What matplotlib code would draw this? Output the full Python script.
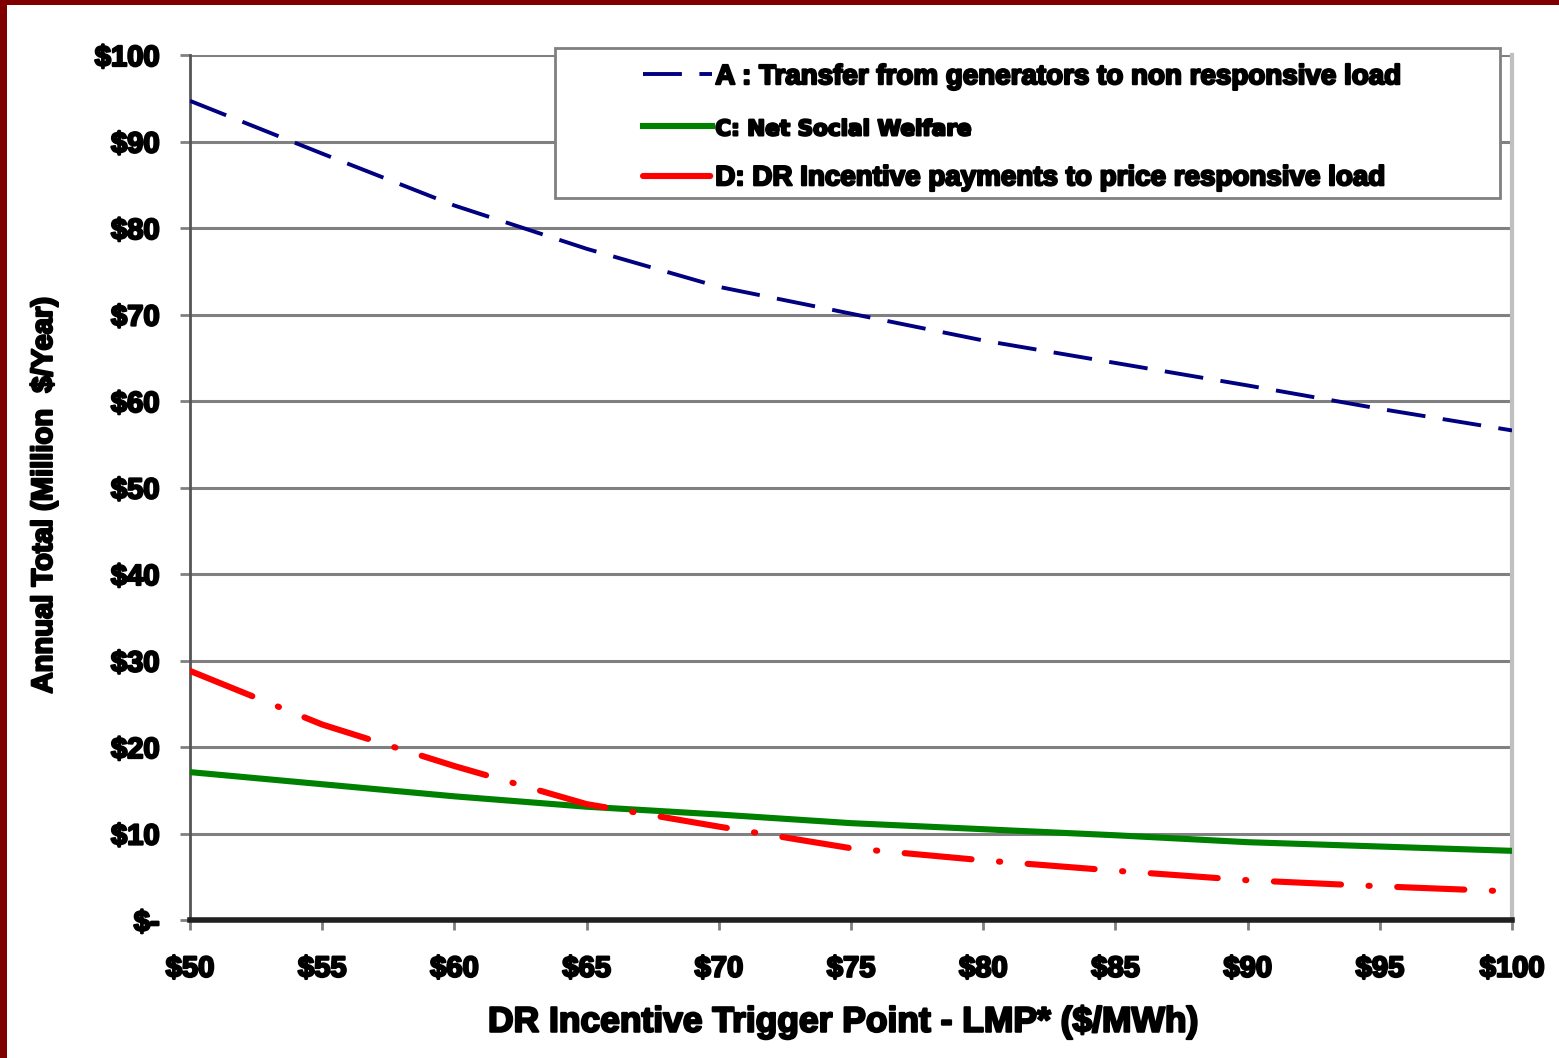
import matplotlib
matplotlib.use("Agg")
import matplotlib.pyplot as plt
import matplotlib.patheffects as pe
from matplotlib.patches import Rectangle
import numpy as np

#%% data ($ million / year versus trigger LMP)
trigger_lmp = [50, 55, 60, 65, 70, 75, 80, 85, 90, 95, 100]
transfer_a = [94.7, 88.6, 82.6, 77.6, 73.2, 70.1, 67.0, 64.4, 61.8, 59.1, 56.6]
welfare_c = [17.1, 15.7, 14.3, 13.1, 12.2, 11.2, 10.5, 9.8, 9.0, 8.5, 8.0]
incentive_d = [28.8, 22.6, 17.8, 13.4, 10.8, 8.3, 6.9, 5.7, 4.6, 3.9, 3.3]

label_a = 'A : Transfer from generators to non responsive load'
label_c = 'C: Net Social Welfare'
label_d = 'D: DR Incentive payments to price responsive load'

x_ticks = np.arange(50, 101, 5)
y_ticks = np.arange(0, 101, 10)
x_ticklabels = ['${}'.format(v) for v in x_ticks]
y_ticklabels = ['$-'] + ['${}'.format(v) for v in y_ticks[1:]]

#%% figure
font = ['Liberation Sans', 'DejaVu Sans']
heavy = [pe.withStroke(linewidth=1.6, foreground='black')]
fig = plt.figure(figsize=(15.59, 10.58), dpi=100)
fig.patch.set_facecolor('white')
ax = fig.add_axes([0.1219, 0.1304, 0.848, 0.8176])

ax.plot(trigger_lmp, transfer_a, color='#000080', lw=2.8,
        dashes=(10, 4.5), label=label_a, zorder=3)
ax.plot(trigger_lmp, welfare_c, color='#008000', lw=4.4,
        label=label_c, zorder=3)
ax.plot(trigger_lmp, incentive_d, color='#ff0000', lw=4.4,
        dashes=(11, 4.5, 0.2, 4.5), dash_capstyle='round', label=label_d,
        zorder=3)

ax.set_xlim(50, 100)
ax.set_ylim(0, 100)
ax.set_xticks(x_ticks)
ax.set_xticklabels(x_ticklabels)
ax.set_yticks(y_ticks)
ax.set_yticklabels(y_ticklabels)
for t in ax.get_xticklabels() + ax.get_yticklabels():
    t.set_family(font)
    t.set_fontweight('bold')
    t.set_fontsize(21)
    t.set_path_effects(heavy)
ax.tick_params(axis='both', color='#808080', width=2, length=7)
ax.tick_params(axis='y', pad=15)
ax.tick_params(axis='x', pad=18)

ax.yaxis.grid(True, color='#808080', lw=2.2)
ax.set_axisbelow(True)
ax.spines['top'].set_visible(False)
ax.spines['left'].set_color('#555555')
ax.spines['left'].set_linewidth(2)
ax.spines['bottom'].set_color('#202020')
ax.spines['bottom'].set_linewidth(4)
ax.spines['right'].set_color('#c0c0c0')
ax.spines['right'].set_linewidth(3)

ax.set_xlabel('DR Incentive Trigger Point - LMP* ($/MWh)', family=font,
              fontweight='bold', fontsize=25.5, path_effects=heavy)
ax.set_ylabel('Annual Total (Million  $/Year)', family=font,
              fontweight='bold', fontsize=21, path_effects=heavy)
ax.xaxis.set_label_coords(0.494, -0.099)
ax.yaxis.set_label_coords(-0.100, 0.491)

#%% legend box
box = Rectangle((0.276, 0.835), 0.715, 0.173, transform=ax.transAxes,
                facecolor='white', edgecolor='#808080', lw=2,
                clip_on=False, zorder=4)
ax.add_patch(box)
leg = ax.legend(loc='center', bbox_to_anchor=(0.629, 0.916), frameon=False,
                handlelength=2.5, handletextpad=0.12, labelspacing=0.93,
                prop={'family': font, 'weight': 'bold', 'size': 20})
leg.set_zorder(5)
for t in leg.get_texts():
    t.set_path_effects(heavy)
leg.get_texts()[1].set_family('DejaVu Sans')
leg.get_texts()[1].set_fontsize(15.5)

#%% maroon frame
fig.patches.append(Rectangle((0, 0), 0.0045, 1, transform=fig.transFigure,
                             facecolor='#800000', edgecolor='none'))
fig.patches.append(Rectangle((0, 0.9953), 1, 0.0047, transform=fig.transFigure,
                             facecolor='#800000', edgecolor='none'))

fig.savefig('out.png', dpi=100)
